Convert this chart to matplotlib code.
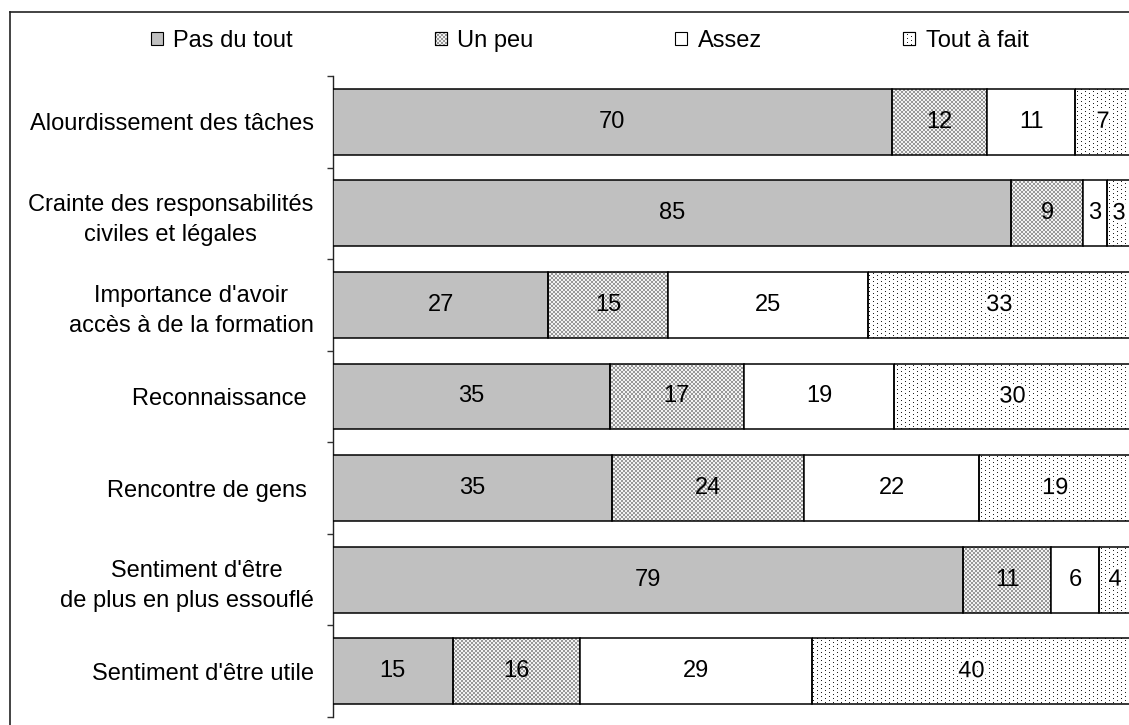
import numpy as np
import matplotlib
matplotlib.use("Agg")
import matplotlib.pyplot as plt
from matplotlib.patches import Patch, Rectangle
from matplotlib.path import Path
from matplotlib.lines import Line2D
from matplotlib.transforms import IdentityTransform
import matplotlib.patheffects as pe

# ---------------- data ----------------
categories = [
    "Alourdissement des tâches",
    "Crainte des responsabilités\nciviles et légales",
    "Importance d'avoir\naccès à de la formation",
    "Reconnaissance ",
    "Rencontre de gens ",
    "   Sentiment d'être\nde plus en plus essouflé",
    "Sentiment d'être utile",
]
series_names = ["Pas du tout", "Un peu", "Assez", "Tout à fait"]
pas_du_tout = [70, 85, 27, 35, 35, 79, 15]
un_peu = [12, 9, 15, 17, 24, 11, 16]
assez = [11, 3, 25, 19, 22, 6, 29]
tout_a_fait = [7, 3, 33, 30, 19, 4, 40]

# ---------------- style ----------------
FONT = "Liberation Sans"
FS = 17
plt.rcParams["font.family"] = [FONT, "DejaVu Sans"]
plt.rcParams["font.size"] = FS

W, H = 1129, 725
fig = plt.figure(figsize=(W / 100, H / 100), dpi=100)
ax_l, ax_r, ax_t, ax_b = 333, 1131, 76, 717
ax = fig.add_axes([ax_l / W, (H - ax_b) / H, (ax_r - ax_l) / W, (ax_b - ax_t) / H])
axw, axh = ax_r - ax_l, ax_b - ax_t

data = np.array([pas_du_tout, un_peu, assez, tout_a_fait], dtype=float)
totals = data.sum(axis=0)
pct = data / totals * 100.0

y = np.arange(len(categories))
bar_h = 0.72
ax.set_xlim(0, 100)
ax.set_ylim(len(categories) - 0.5, -0.5)


def checker(h, w):
    yy, xx = np.indices((h, w))
    m = ((yy // 2 + xx // 2) % 2) == 0
    img = np.ones((h, w, 3))
    img[m] = np.array([0x98, 0x98, 0x98]) / 255
    img[~m] = np.array([0xf2, 0xf2, 0xf2]) / 255
    return img


def dots(h, w):
    yy, xx = np.indices((h, w))
    m = ((yy % 4 == 0) & (xx % 8 == 0)) | ((yy % 4 == 2) & (xx % 8 == 4))
    img = np.ones((h, w, 3))
    img[m] = np.array([0x20, 0x20, 0x20]) / 255
    return img


faces = ["#c0c0c0", "none", "white", "none"]
textures = [None, checker, None, dots]
lefts = np.zeros(len(categories))
containers = []
for i, name in enumerate(series_names):
    bars = ax.barh(y, pct[i], left=lefts, height=bar_h, color=faces[i],
                   edgecolor="black", linewidth=1.1, zorder=3, label=name)
    containers.append(bars)
    if textures[i] is not None:
        paths = [p.get_path().transformed(p.get_patch_transform()) for p in bars]
        cpath = Path.make_compound_path(*paths)
        im = ax.imshow(textures[i](axh, axw), extent=[0, 100, len(categories) - 0.5, -0.5],
                       aspect="auto", interpolation="nearest", zorder=2)
        im.set_clip_path(cpath, transform=ax.transData)
    lefts = lefts + pct[i]

for i, bars in enumerate(containers):
    labs = ax.bar_label(bars, labels=[f"{v:g}" for v in data[i]], label_type="center",
                        fontsize=FS, color="black", zorder=5)
    if textures[i] is dots:
        for t in labs:
            t.set_path_effects([pe.withStroke(linewidth=4, foreground="white")])

ax.set_yticks(y)
ax.set_yticklabels(categories)
for t in ax.get_yticklabels():
    t.set_multialignment("center")
    t.set_linespacing(1.45)
ax.tick_params(axis="y", which="major", length=0, pad=14, labelsize=FS)
ax.set_yticks(np.arange(-0.5, len(categories), 1), minor=True)
ax.tick_params(axis="y", which="minor", length=4.5, width=1.0, color="#333333", direction="out")
ax.set_xticks([])
for s in ["top", "right", "bottom"]:
    ax.spines[s].set_visible(False)
ax.spines["left"].set_linewidth(1.0)
ax.spines["left"].set_color("#222222")

# figure frame (left and top)
fig.add_artist(Line2D([9.5 / W, 9.5 / W], [0, 1 - 11.5 / H], transform=fig.transFigure,
                      color="#222222", linewidth=1.2))
fig.add_artist(Line2D([9.5 / W, 1], [1 - 11.5 / H, 1 - 11.5 / H], transform=fig.transFigure,
                      color="#222222", linewidth=1.2))

# legend
handles = [Patch(facecolor=faces[i] if faces[i] != "none" else "white", edgecolor="black",
                 linewidth=0.8) for i in range(4)]
leg = fig.legend(handles, series_names, loc="center left",
                 bbox_to_anchor=(151 / W, 1 - 41 / H), ncol=4, frameon=False,
                 borderpad=0, borderaxespad=0, columnspacing=6.0, handlelength=0.5,
                 handleheight=0.5, handletextpad=0.45, fontsize=FS)

fig.canvas.draw()
for i, h in enumerate(leg.legend_handles):
    if textures[i] is None:
        continue
    bb = h.get_window_extent()
    x0, y0 = int(round(bb.x0)), int(round(bb.y0))
    w, hh = int(round(bb.width)), int(round(bb.height))
    fig.figimage(textures[i](hh, w), xo=x0, yo=y0, zorder=6)
    fig.add_artist(Rectangle((x0, y0), w, hh, transform=IdentityTransform(),
                             facecolor="none", edgecolor="black", linewidth=0.8, zorder=7))

fig.savefig("out.png", dpi=100)
